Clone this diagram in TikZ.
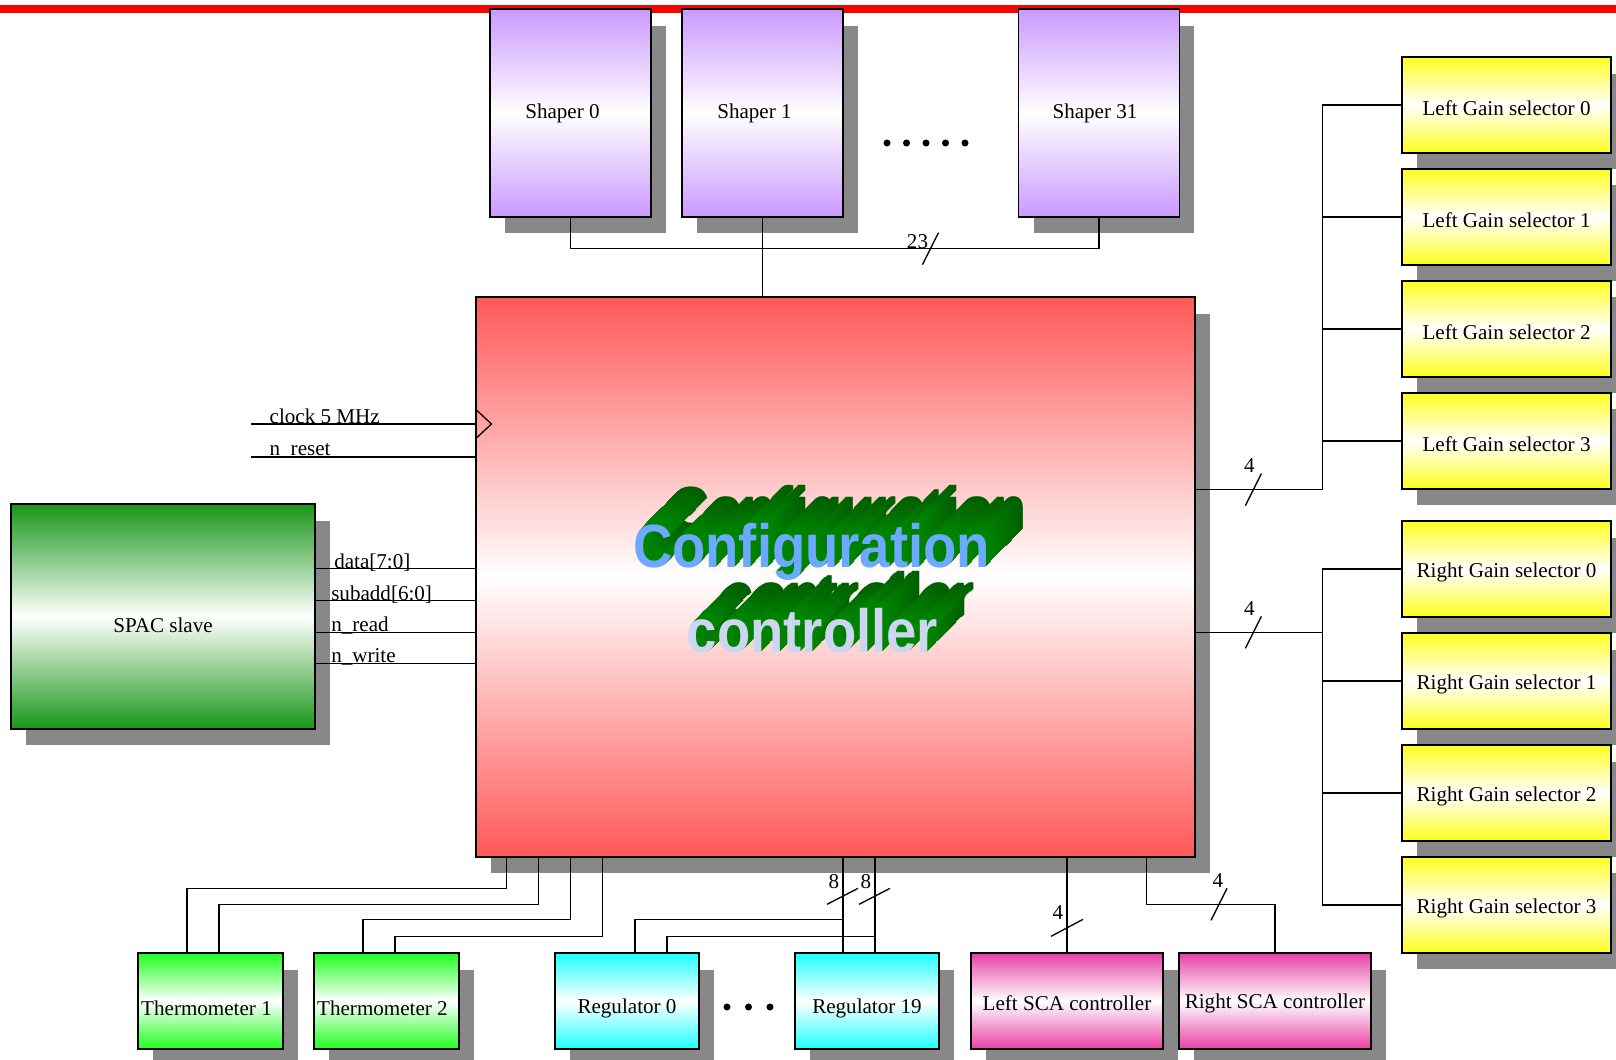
\documentclass[tikz,border=0pt]{standalone}
\usepackage{fontspec}
\setmainfont{Liberation Serif}
\newfontfamily\artfont{Liberation Sans}
\usepackage{tikz}
\usetikzlibrary{calc}
\usetikzlibrary{positioning}
\usetikzlibrary{shadows}
\definecolor{BarRed}{RGB}{255,0,0}
\definecolor{ShaperViolet}{RGB}{202,152,255}
\definecolor{CfgRed}{RGB}{255,88,88}
\definecolor{SpacGreen}{RGB}{24,150,24}
\definecolor{ThermoGreen}{RGB}{30,255,30}
\definecolor{RegCyan}{RGB}{30,255,255}
\definecolor{ScaPink}{RGB}{232,64,165}
\definecolor{GainYellow}{RGB}{255,255,30}
\definecolor{ShadowGray}{RGB}{136,136,136}
\definecolor{ArtBlue}{RGB}{108,170,255}
\definecolor{ArtLilac}{RGB}{205,214,240}
\definecolor{ArtGreen}{RGB}{0,135,0}
\definecolor{ArtDark}{RGB}{0,80,0}

\begin{document}
\begin{tikzpicture}[
 x=0.02cm, y=-0.02cm,
 font=\fontsize{12}{14}\selectfont,
 line width=0.75pt,
 block/.style = {draw, rectangle, inner sep=0pt,
                 drop shadow={shadow xshift=0.3cm, shadow yshift=-0.33cm, fill=ShadowGray, opacity=1}},
 shblock/.style = {block, minimum width=3.22cm, minimum height=4.16cm,
                   top color=ShaperViolet, bottom color=ShaperViolet, middle color=white},
 cfgblock/.style = {block, minimum width=14.38cm, minimum height=11.2cm,
                    top color=CfgRed, bottom color=CfgRed, middle color=white},
 spblock/.style = {block, minimum width=6.08cm, minimum height=4.5cm,
                   top color=SpacGreen, bottom color=SpacGreen, middle color=white},
 thblock/.style = {block, minimum width=2.9cm, minimum height=1.92cm,
                   top color=ThermoGreen, bottom color=ThermoGreen, middle color=white},
 rgblock/.style = {block, minimum width=2.88cm, minimum height=1.92cm,
                   top color=RegCyan, bottom color=RegCyan, middle color=white},
 scblock/.style = {block, minimum width=3.84cm, minimum height=1.92cm,
                   top color=ScaPink, bottom color=ScaPink, middle color=white},
 gsblock/.style = {block, minimum width=4.18cm, minimum height=1.92cm,
                   top color=GainYellow, bottom color=GainYellow, middle color=white},
 sig/.style = {anchor=base west, inner sep=0pt},
 bits/.style = {inner sep=0pt},
 art/.style = {anchor=base, inner sep=0pt, font=\artfont\bfseries\fontsize{31}{36}\selectfont},
                        ]

    \fill [white] (0,0) rectangle (1616,1060);
    \useasboundingbox (0,0) rectangle (1616,1060);
    \fill [BarRed] (0,5) rectangle (1616,13);

    % shapers along the top
    \node [shblock] (sh0) at (570.5,113) {};
    \node at ([xshift=-0.16cm]sh0) {Shaper 0};
    \node [shblock, right=0.594cm of sh0] (sh1) {};
    \node at ([xshift=-0.16cm]sh1) {Shaper 1};
    \node [shblock] (sh31) at (1099,113) {};
    \node at ([xshift=-0.08cm]sh31) {Shaper 31};
    \foreach \i in {0,...,4}
        \fill (887+19.5*\i,143) circle (2pt);

    % the controller itself
    \node [cfgblock] (cfg) at (835.5,577) {};
    \node [spblock] (spac) at (163,616.5) {};
    \node at ([yshift=-0.18cm]spac) {SPAC slave};

    % bottom row
    \node [thblock] (th1) at (210.5,1001) {};
    \node at ([xshift=-0.08cm, yshift=-0.15cm]th1) {Thermometer 1};
    \node [thblock, right=0.594cm of th1] (th2) {};
    \node at ([xshift=-0.08cm, yshift=-0.15cm]th2) {Thermometer 2};
    \node [rgblock] (reg0) at (627,1001) {};
    \node at ([yshift=-0.15cm]reg0) {Regulator 0};
    \node [rgblock] (reg19) at (867,1001) {};
    \node at ([yshift=-0.15cm]reg19) {Regulator 19};
    \foreach \i in {0,1,2}
        \fill (727+21.5*\i,1007) circle (2pt);
    \node [scblock] (lsca) at (1067,1001) {};
    \node at ([yshift=-0.04cm]lsca) {Left SCA controller};
    \node [scblock, right=0.294cm of lsca] (rsca) {};
    \node at ([yshift=-0.04cm]rsca) {Right SCA controller};

    % gain selectors on the right
    \node [gsblock] (lg0) at (1506.5,105) {};
    \node at ([yshift=-0.06cm]lg0) {Left Gain selector 0};
    \node [gsblock, below=0.294cm of lg0] (lg1) {};
    \node at ([yshift=-0.06cm]lg1) {Left Gain selector 1};
    \node [gsblock, below=0.294cm of lg1] (lg2) {};
    \node at ([yshift=-0.06cm]lg2) {Left Gain selector 2};
    \node [gsblock, below=0.294cm of lg2] (lg3) {};
    \node at ([yshift=-0.06cm]lg3) {Left Gain selector 3};
    \node [gsblock] (rg0) at (1506.5,569) {};
    \node at ([yshift=-0.06cm]rg0) {Right Gain selector 0};
    \node [gsblock, below=0.294cm of rg0] (rg1) {};
    \node at ([yshift=-0.06cm]rg1) {Right Gain selector 1};
    \node [gsblock, below=0.294cm of rg1] (rg2) {};
    \node at ([yshift=-0.06cm]rg2) {Right Gain selector 2};
    \node [gsblock, below=0.294cm of rg2] (rg3) {};
    \node at ([yshift=-0.06cm]rg3) {Right Gain selector 3};

    % extruded title
    \coordinate (cfgtop) at ($(cfg.center)+(-24,-10)$);
    \coordinate (cfgbot) at ($(cfg.center)+(-23,75)$);
    \foreach \k in {37,36,...,1} {
        \pgfmathtruncatemacro\p{100-2*\k}
        \node [art, text=ArtGreen!\p!ArtDark] at ($(cfgtop)+(\k,-\k)$) {\scalebox{1}[1.12]{Configuration}};
        \node [art, text=ArtGreen!\p!ArtDark] at ($(cfgbot)+(\k,-\k)$) {\scalebox{1}[1.12]{controller}};
    }
    \node [art, text=ArtBlue] at (cfgtop) {\scalebox{1}[1.12]{Configuration}};
    \node [art, text=ArtLilac] at (cfgbot) {\scalebox{1}[1.12]{controller}};

    % shaper bus
    \draw (sh0.south) -- ++(0,31) coordinate (sbus) -| (sh31.south);
    \draw (sh1.south) -- (sh1.south |- cfg.north);
    \draw ($(sbus)+(352,16)$) -- ++(16,-32);
    \node [bits, anchor=base] at ($(sbus)+(347,0)$) {23};

    % clock and reset
    \coordinate (clk) at (251,424);
    \coordinate (rst) at (251,457);
    \draw (clk) -- (clk -| cfg.west);
    \draw (rst) -- (rst -| cfg.west);
    \node [sig] at ($(clk)+(18,0)$) {clock 5 MHz};
    \node [sig] at ($(rst)+(18,-1)$) {n\_reset};
    \draw ($(clk -| cfg.west)+(0,-15)$) -- ++(16,15) -- ++(-16,15);

    % SPAC slave port
    \draw ($(spac.north east)+(0,65)$) coordinate (sd) -- (sd -| cfg.west);
    \draw ($(spac.north east)+(0,97)$) coordinate (sa) -- (sa -| cfg.west);
    \draw ($(spac.north east)+(0,129)$) coordinate (sr) -- (sr -| cfg.west);
    \draw ($(spac.north east)+(0,160)$) coordinate (sw) -- (sw -| cfg.west);
    \node [sig] at ($(sd)+(18,0)$) {data[7:0]};
    \node [sig] at ($(sa)+(15,0)$) {subadd[6:0]};
    \node [sig] at ($(sr)+(15,-1)$) {n\_read};
    \node [sig] at ($(sw)+(15,-1)$) {n\_write};

    % thermometers
    \draw ([xshift=-0.47cm]th1.north) -- ++(0,-64) -| ($(cfg.south west)+(31,0)$);
    \draw ([xshift=0.17cm]th1.north) -- ++(0,-48) -| ($(cfg.south west)+(63,0)$);
    \draw ([xshift=-0.47cm]th2.north) -- ++(0,-33) -| ($(cfg.south west)+(95,0)$);
    \draw ([xshift=0.17cm]th2.north) -- ++(0,-16) -| ($(cfg.south west)+(127,0)$);

    % regulators
    \draw ([xshift=-0.48cm]reg19.north) coordinate (ra) -- (ra |- cfg.south);
    \draw ([xshift=0.16cm]reg19.north) coordinate (rb) -- (rb |- cfg.south);
    \draw ([xshift=0.16cm]reg0.north) |- ($(ra)+(0,-33)$);
    \draw ([xshift=0.8cm]reg0.north) |- ($(rb)+(0,-16)$);
    \draw ($(ra)+(-16,-48)$) -- ++(31,-16);
    \draw ($(rb)+(-16,-48)$) -- ++(31,-16);
    \node [bits] at ($(ra)+(-9,-71)$) {8};
    \node [bits] at ($(rb)+(-9,-71)$) {8};

    % SCA controllers
    \draw (lsca.north) -- (lsca.north |- cfg.south);
    \draw ($(lsca.north)+(-16,-16)$) -- ++(32,-17);
    \node [bits] at ($(lsca.north)+(-9,-40)$) {4};
    \draw (rsca.north) -- ++(0,-48) coordinate (rbus) -| ($(cfg.south west)+(671,0)$);
    \draw ($(rbus)+(-64,16)$) -- ++(16,-32);
    \node [bits] at ($(rbus)+(-57,-24)$) {4};

    % left gain bus
    \coordinate (ljoin) at ($(lg3.south west)+(-79,0)$);
    \draw (cfg.east |- ljoin) -- (ljoin) |- (lg0.west);
    \draw (ljoin |- lg1.west) -- (lg1.west);
    \draw (ljoin |- lg2.west) -- (lg2.west);
    \draw (ljoin |- lg3.west) -- (lg3.west);
    \draw ($(ljoin)+(-77,16)$) -- ++(16,-32);
    \node [bits] at ($(ljoin)+(-73,-24)$) {4};

    % right gain bus
    \coordinate (rjoin) at ($(rg1.north west)+(-79,0)$);
    \draw (cfg.east |- rjoin) -- (rjoin);
    \draw (rg0.west) -| (rjoin) |- (rg3.west);
    \draw (rjoin |- rg1.west) -- (rg1.west);
    \draw (rjoin |- rg2.west) -- (rg2.west);
    \draw ($(rjoin)+(-77,16)$) -- ++(16,-32);
    \node [bits] at ($(rjoin)+(-73,-24)$) {4};

    \end{tikzpicture}
\end{document}
